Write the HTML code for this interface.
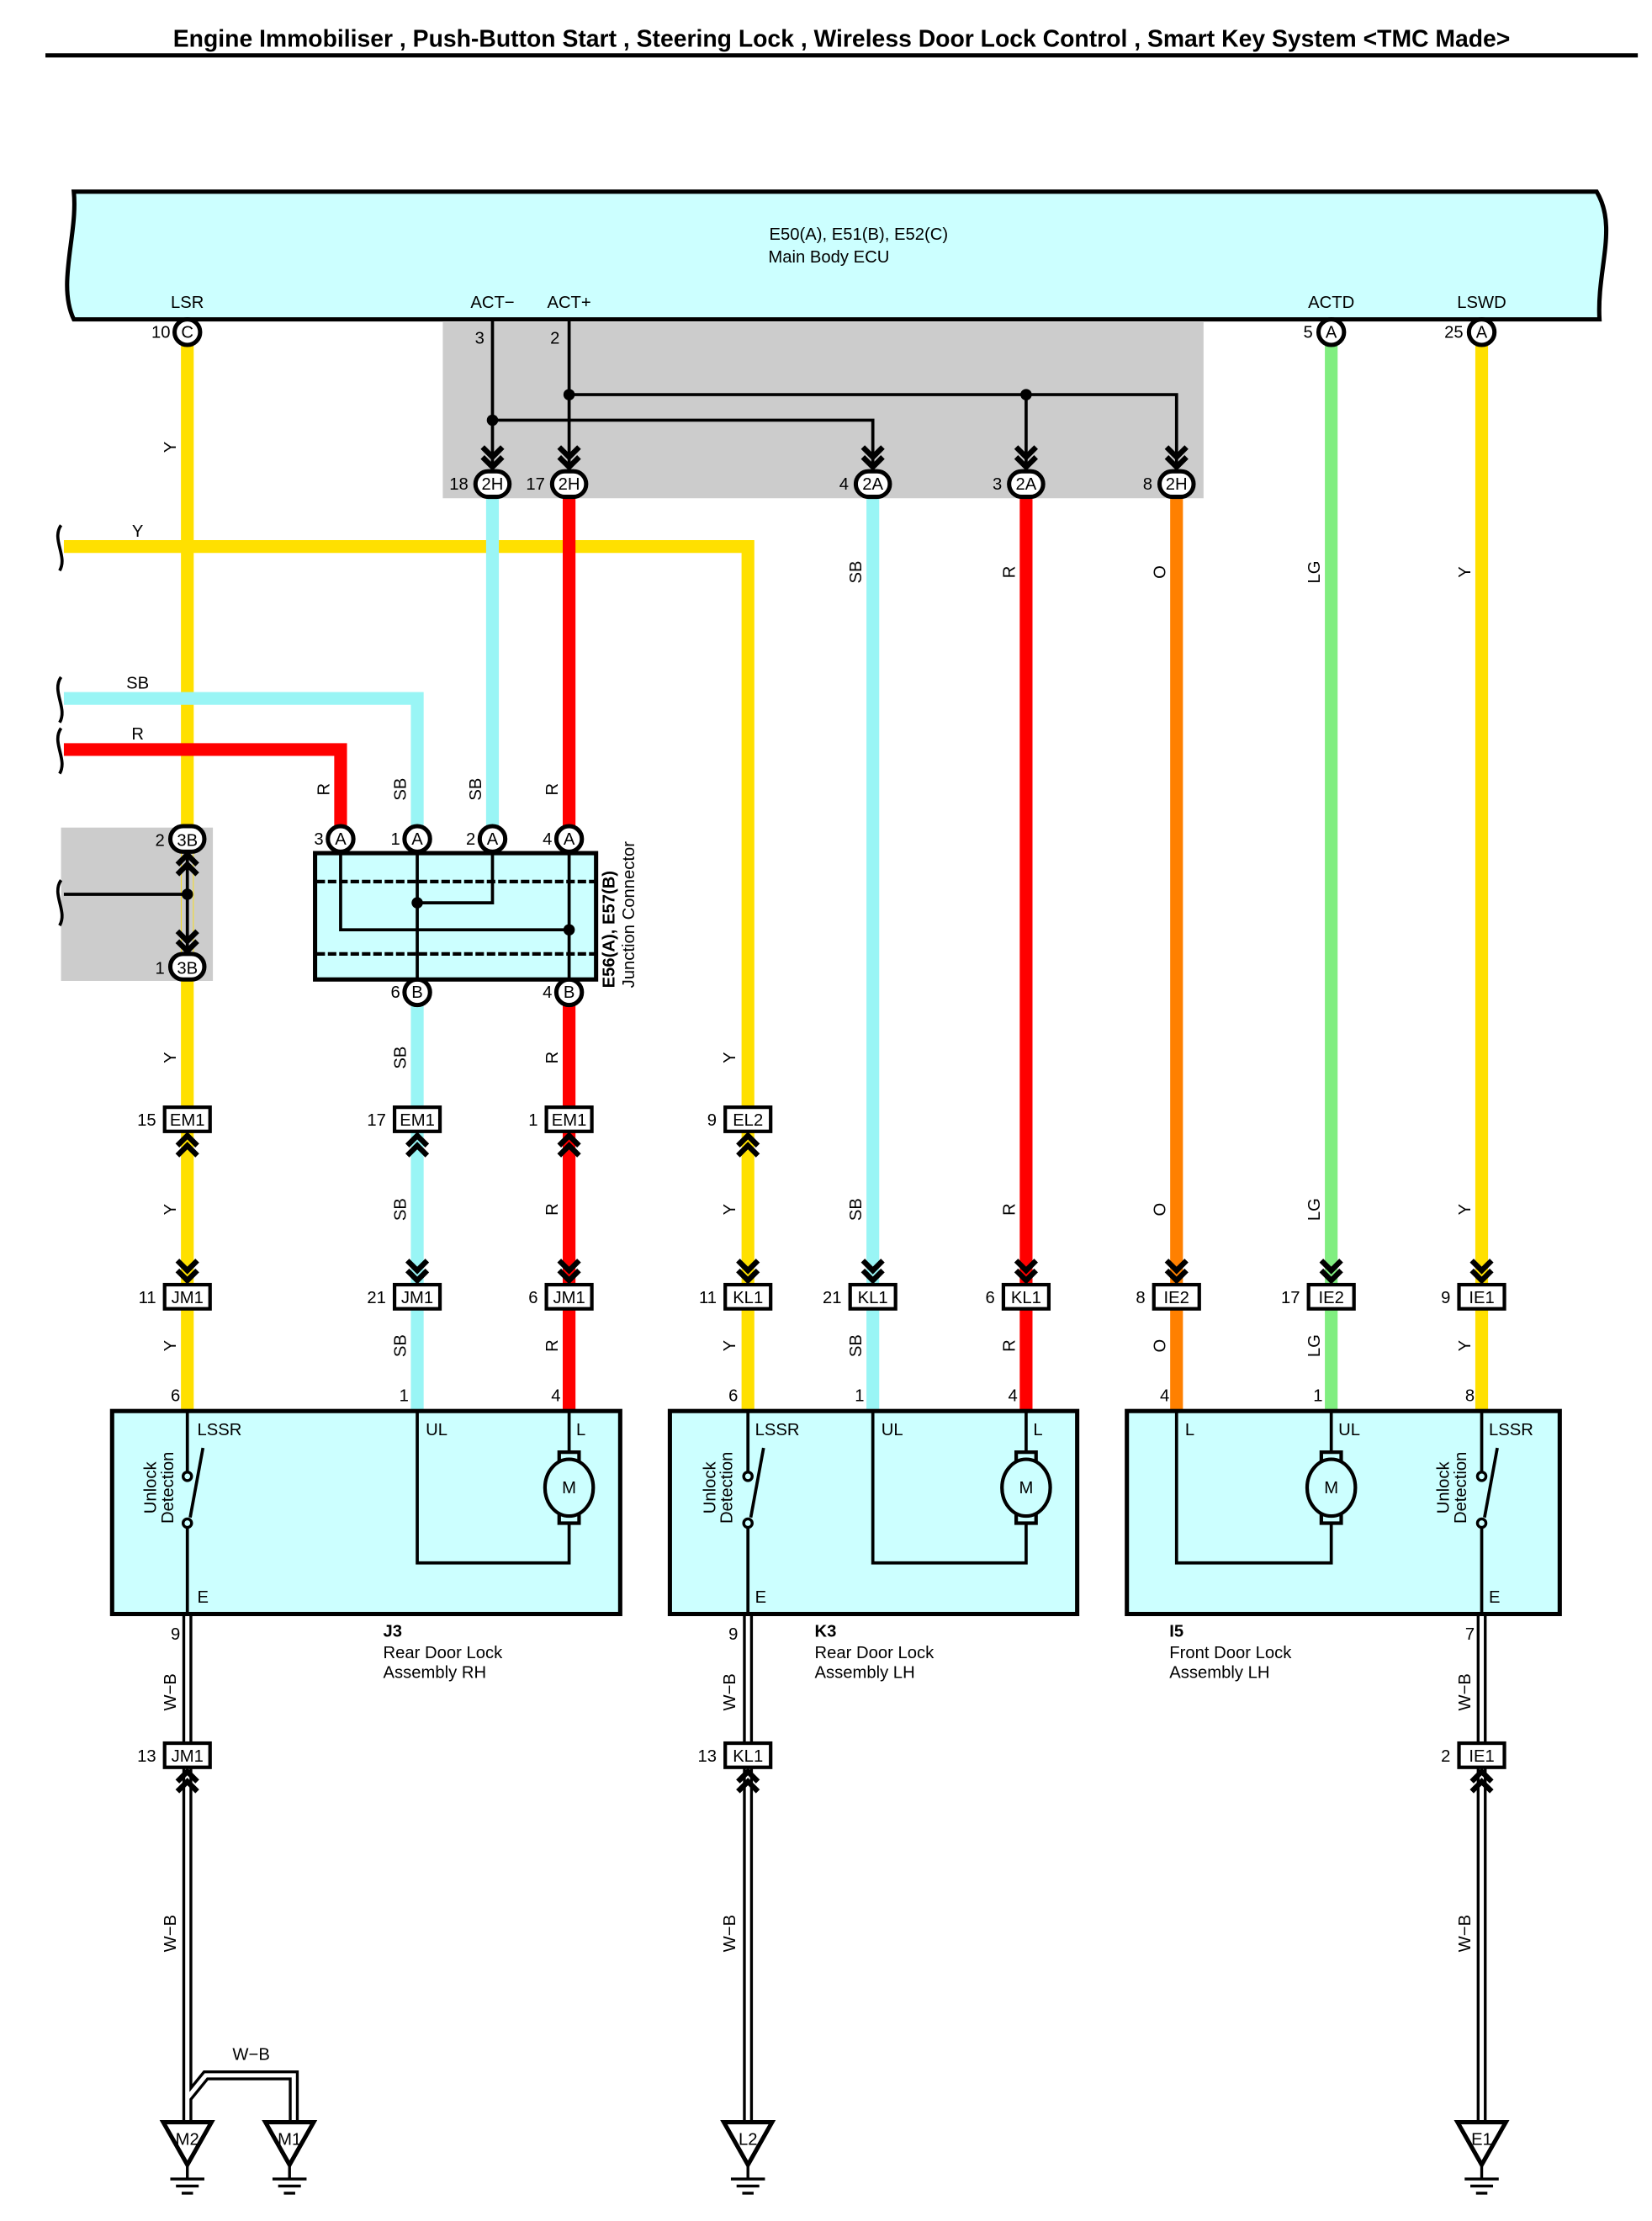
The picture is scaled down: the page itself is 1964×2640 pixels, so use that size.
<!DOCTYPE html>
<html><head><meta charset="utf-8"><style>
html,body{margin:0;padding:0;background:#fff;}
svg{display:block;}
text{font-family:"Liberation Sans",Arial,sans-serif;fill:#000;}
.t{font-size:12px;}
.w{fill:none;stroke-width:9;}
.k{fill:none;stroke:#000;stroke-width:2.2;}
</style></head><body>
<svg width="1964" height="2640" viewBox="0 0 1164 1564.6" preserveAspectRatio="none" xmlns="http://www.w3.org/2000/svg">
<defs>
<g id="cd"><path d="M-7,-16 L0,-9 L7,-16 M-7,-9 L0,-2 L7,-9" fill="none" stroke="#000" stroke-width="3.8"/></g>
<g id="cu"><path d="M-7,16 L0,9 L7,16 M-7,9 L0,2 L7,9" fill="none" stroke="#000" stroke-width="3.8"/></g>
<g id="gnd"><path d="M-17,0 L17,0 L0,30 Z" fill="#fff" stroke="#000" stroke-width="3"/><path d="M0,30 V40 M-12,40 H12 M-8,45 H8 M-4,50 H4" stroke="#000" stroke-width="2" fill="none"/></g>
</defs>
<text x="593" y="33" text-anchor="middle" style="font-size:16.8px;font-weight:bold">Engine Immobiliser , Push-Button Start , Steering Lock , Wireless Door Lock Control , Smart Key System &lt;TMC Made&gt;</text>
<rect x="32" y="37.5" width="1122" height="3" fill="#000"/>

<!-- ECU -->
<path d="M52,135 H1125 C1140,160 1125,190 1127,225 H52 C40,200 55,165 52,135 Z" fill="#ccffff" stroke="#000" stroke-width="3"/>
<text x="605" y="169" text-anchor="middle" class="t">E50(A), E51(B), E52(C)</text>
<text x="584" y="185" text-anchor="middle" class="t">Main Body ECU</text>
<text x="132" y="217" text-anchor="middle" class="t">LSR</text>
<text x="347" y="217" text-anchor="middle" class="t">ACT−</text>
<text x="401" y="217" text-anchor="middle" class="t">ACT+</text>
<text x="938" y="217" text-anchor="middle" class="t">ACTD</text>
<text x="1044" y="217" text-anchor="middle" class="t">LSWD</text>

<rect x="312" y="227" width="536" height="124" fill="#cccccc"/>
<rect x="43" y="583" width="107" height="108" fill="#cccccc"/>

<g class="w">
<path d="M132,242 V993" stroke="#ffe000"/>
<path d="M45,385 H527 V993" stroke="#ffe000"/>
<path d="M1044,242 V993" stroke="#ffe000"/>
<path d="M938,242 V993" stroke="#80ee80"/>
<path d="M829,350 V993" stroke="#ff8000"/>
<path d="M723,350 V993" stroke="#ff0000"/>
<path d="M615,350 V993" stroke="#99f5f5"/>
<path d="M401,350 V993" stroke="#ff0000"/>
<path d="M347,350 V590" stroke="#99f5f5"/>
<path d="M45,492 H294 V590" stroke="#99f5f5"/>
<path d="M294,700 V993" stroke="#99f5f5"/>
<path d="M45,528 H240 V590" stroke="#ff0000"/>
</g>
<g fill="none" stroke="#000" stroke-width="2.2">
<path d="M43,370 C36,380 48,392 42,402"/>
<path d="M43,477 C36,487 48,499 42,509"/>
<path d="M43,513 C36,523 48,535 42,545"/>
<path d="M43,620 C36,630 48,642 42,652"/>
</g>
<rect x="128" y="600" width="8" height="74" fill="#cccccc"/>

<g class="k">
<path d="M347,225 V330 M401,225 V330 M347,296 H615 V330 M401,278 H829 V330 M723,278 V330"/>
<path d="M132,600 V672 M45,630 H132"/>
</g>
<g fill="#000"><circle cx="347" cy="296" r="4"/><circle cx="401" cy="278" r="4"/><circle cx="723" cy="278" r="4"/><circle cx="132" cy="630" r="4"/></g>
<use href="#cd" x="347" y="331"/><use href="#cd" x="401" y="331"/><use href="#cd" x="615" y="331"/><use href="#cd" x="723" y="331"/><use href="#cd" x="829" y="331"/>
<use href="#cu" x="132" y="600"/><use href="#cd" x="132" y="672"/>
<text x="338" y="242" text-anchor="middle" class="t">3</text>
<text x="391" y="242" text-anchor="middle" class="t">2</text>

<g fill="#fff" stroke="#000" stroke-width="3">
<circle cx="132" cy="234" r="9"/><circle cx="938" cy="234" r="9"/><circle cx="1044" cy="234" r="9"/>
<circle cx="240" cy="591" r="9"/><circle cx="294" cy="591" r="9"/><circle cx="347" cy="591" r="9"/><circle cx="401" cy="591" r="9"/>
<circle cx="294" cy="699" r="9"/><circle cx="401" cy="699" r="9"/>
<rect x="335" y="332" width="24" height="18" rx="9"/><rect x="389" y="332" width="24" height="18" rx="9"/>
<rect x="603" y="332" width="24" height="18" rx="9"/><rect x="711" y="332" width="24" height="18" rx="9"/><rect x="817" y="332" width="24" height="18" rx="9"/>
<rect x="120" y="582" width="24" height="18" rx="9"/><rect x="120" y="672" width="24" height="18" rx="9"/>
</g>
<g class="t" text-anchor="middle">
<text x="132" y="238">C</text><text x="938" y="238">A</text><text x="1044" y="238">A</text>
<text x="240" y="595">A</text><text x="294" y="595">A</text><text x="347" y="595">A</text><text x="401" y="595">A</text>
<text x="294" y="703">B</text><text x="401" y="703">B</text>
<text x="347" y="345">2H</text><text x="401" y="345">2H</text><text x="615" y="345">2A</text><text x="723" y="345">2A</text><text x="829" y="345">2H</text>
<text x="132" y="596">3B</text><text x="132" y="686">3B</text>
</g>
<g class="t" text-anchor="end">
<text x="120" y="238">10</text><text x="925" y="238">5</text><text x="1031" y="238">25</text>
<text x="330" y="345">18</text><text x="384" y="345">17</text><text x="598" y="345">4</text><text x="706" y="345">3</text><text x="812" y="345">8</text>
<text x="116" y="596">2</text><text x="116" y="686">1</text>
<text x="228" y="595">3</text><text x="282" y="595">1</text><text x="335" y="595">2</text><text x="389" y="595">4</text>
<text x="282" y="703">6</text><text x="389" y="703">4</text>
</g>

<rect x="222" y="601" width="198" height="89" fill="#ccffff" stroke="#000" stroke-width="3"/>
<path d="M223,621 H419 M223,672 H419" stroke="#000" stroke-width="2.5" stroke-dasharray="6,2"/>
<g class="k"><path d="M240,600 V655 H401 M294,600 V690 M347,600 V636 H294 M401,600 V690"/></g>
<circle cx="401" cy="655" r="4"/><circle cx="294" cy="636" r="4"/>
<text transform="translate(433,696) rotate(-90)" style="font-size:12px;font-weight:bold">E56(A), E57(B)</text>
<text transform="translate(447,696) rotate(-90)" class="t">Junction Connector</text>

<text x="97" y="378" text-anchor="middle" class="t">Y</text>
<text x="97" y="485" text-anchor="middle" class="t">SB</text>
<text x="97" y="521" text-anchor="middle" class="t">R</text>

<g class="t" text-anchor="middle">
<text transform="translate(124,315) rotate(-90)">Y</text>
<text transform="translate(232,556) rotate(-90)">R</text>
<text transform="translate(286,556) rotate(-90)">SB</text>
<text transform="translate(339,556) rotate(-90)">SB</text>
<text transform="translate(393,556) rotate(-90)">R</text>
<text transform="translate(607,403) rotate(-90)">SB</text>
<text transform="translate(715,403) rotate(-90)">R</text>
<text transform="translate(821,403) rotate(-90)">O</text>
<text transform="translate(930,403) rotate(-90)">LG</text>
<text transform="translate(1036,403) rotate(-90)">Y</text>
<text transform="translate(124,745) rotate(-90)">Y</text>
<text transform="translate(286,745) rotate(-90)">SB</text>
<text transform="translate(393,745) rotate(-90)">R</text>
<text transform="translate(518,745) rotate(-90)">Y</text>
<text transform="translate(124,852) rotate(-90)">Y</text>
<text transform="translate(286,852) rotate(-90)">SB</text>
<text transform="translate(393,852) rotate(-90)">R</text>
<text transform="translate(518,852) rotate(-90)">Y</text>
<text transform="translate(607,852) rotate(-90)">SB</text>
<text transform="translate(715,852) rotate(-90)">R</text>
<text transform="translate(821,852) rotate(-90)">O</text>
<text transform="translate(930,852) rotate(-90)">LG</text>
<text transform="translate(1036,852) rotate(-90)">Y</text>
<text transform="translate(124,948) rotate(-90)">Y</text>
<text transform="translate(286,948) rotate(-90)">SB</text>
<text transform="translate(393,948) rotate(-90)">R</text>
<text transform="translate(518,948) rotate(-90)">Y</text>
<text transform="translate(607,948) rotate(-90)">SB</text>
<text transform="translate(715,948) rotate(-90)">R</text>
<text transform="translate(821,948) rotate(-90)">O</text>
<text transform="translate(930,948) rotate(-90)">LG</text>
<text transform="translate(1036,948) rotate(-90)">Y</text>
<text transform="translate(124,1192) rotate(-90)">W−B</text>
<text transform="translate(518,1192) rotate(-90)">W−B</text>
<text transform="translate(1036,1192) rotate(-90)">W−B</text>
<text transform="translate(124,1362) rotate(-90)">W−B</text>
<text transform="translate(518,1362) rotate(-90)">W−B</text>
<text transform="translate(1036,1362) rotate(-90)">W−B</text>
</g>

<use href="#cu" x="132" y="798"/><use href="#cu" x="294" y="798"/><use href="#cu" x="401" y="798"/><use href="#cu" x="527" y="798"/>
<use href="#cd" x="132" y="904"/><use href="#cd" x="294" y="904"/><use href="#cd" x="401" y="904"/><use href="#cd" x="527" y="904"/><use href="#cd" x="615" y="904"/><use href="#cd" x="723" y="904"/><use href="#cd" x="829" y="904"/><use href="#cd" x="938" y="904"/><use href="#cd" x="1044" y="904"/>

<g fill="none">
<path d="M132,1137 V1495 M527,1137 V1495 M1044,1137 V1495 M132,1478 L145,1462 H207 V1495" stroke="#000" stroke-width="7"/>
<path d="M132,1137 V1495 M527,1137 V1495 M1044,1137 V1495 M132,1478 L145,1462 H207 V1495" stroke="#fff" stroke-width="3"/>
</g>
<use href="#cu" x="132" y="1246"/><use href="#cu" x="527" y="1246"/><use href="#cu" x="1044" y="1246"/>
<text x="177" y="1451" text-anchor="middle" class="t">W−B</text>

<g fill="#fff" stroke="#000" stroke-width="2.5">
<rect x="116" y="780" width="32" height="17"/><rect x="278" y="780" width="32" height="17"/><rect x="385" y="780" width="32" height="17"/><rect x="511" y="780" width="32" height="17"/>
<rect x="116" y="905" width="32" height="17"/><rect x="278" y="905" width="32" height="17"/><rect x="385" y="905" width="32" height="17"/>
<rect x="511" y="905" width="32" height="17"/><rect x="599" y="905" width="32" height="17"/><rect x="707" y="905" width="32" height="17"/>
<rect x="813" y="905" width="32" height="17"/><rect x="922" y="905" width="32" height="17"/><rect x="1028" y="905" width="32" height="17"/>
<rect x="116" y="1228" width="32" height="17"/><rect x="511" y="1228" width="32" height="17"/><rect x="1028" y="1228" width="32" height="17"/>
</g>
<g class="t" text-anchor="middle">
<text x="132" y="793">EM1</text><text x="294" y="793">EM1</text><text x="401" y="793">EM1</text><text x="527" y="793">EL2</text>
<text x="132" y="918">JM1</text><text x="294" y="918">JM1</text><text x="401" y="918">JM1</text>
<text x="527" y="918">KL1</text><text x="615" y="918">KL1</text><text x="723" y="918">KL1</text>
<text x="829" y="918">IE2</text><text x="938" y="918">IE2</text><text x="1044" y="918">IE1</text>
<text x="132" y="1241">JM1</text><text x="527" y="1241">KL1</text><text x="1044" y="1241">IE1</text>
</g>
<g class="t" text-anchor="end">
<text x="110" y="793">15</text><text x="272" y="793">17</text><text x="379" y="793">1</text><text x="505" y="793">9</text>
<text x="110" y="918">11</text><text x="272" y="918">21</text><text x="379" y="918">6</text>
<text x="505" y="918">11</text><text x="593" y="918">21</text><text x="701" y="918">6</text>
<text x="807" y="918">8</text><text x="916" y="918">17</text><text x="1022" y="918">9</text>
<text x="110" y="1241">13</text><text x="505" y="1241">13</text><text x="1022" y="1241">2</text>
<text x="127" y="987">6</text><text x="288" y="987">1</text><text x="395" y="987">4</text>
<text x="520" y="987">6</text><text x="609" y="987">1</text><text x="717" y="987">4</text>
<text x="824" y="987">4</text><text x="932" y="987">1</text><text x="1039" y="987">8</text>
<text x="127" y="1155">9</text><text x="520" y="1155">9</text><text x="1039" y="1155">7</text>
</g>

<g fill="#ccffff" stroke="#000" stroke-width="3">
<rect x="79" y="994" width="358" height="143"/>
<rect x="472" y="994" width="287" height="143"/>
<rect x="794" y="994" width="305" height="143"/>
</g>
<g class="k">
<path d="M132,994 V1037 M132,1076 V1137 M294,994 V1101 H401 V1073 M401,994 V1023"/>
<path d="M134,1069 L143,1020"/>
<path d="M527,994 V1037 M527,1076 V1137 M615,994 V1101 H723 V1073 M723,994 V1023"/>
<path d="M529,1069 L538,1020"/>
<path d="M1044,994 V1037 M1044,1076 V1137 M829,994 V1101 H938 V1073 M938,994 V1023"/>
<path d="M1046,1069 L1055,1020"/>
</g>
<g fill="#ccffff" stroke="#000" stroke-width="2">
<circle cx="132" cy="1040" r="3"/><circle cx="132" cy="1073" r="3"/>
<circle cx="527" cy="1040" r="3"/><circle cx="527" cy="1073" r="3"/>
<circle cx="1044" cy="1040" r="3"/><circle cx="1044" cy="1073" r="3"/>
</g>
<g fill="#ccffff" stroke="#000" stroke-width="2.5">
<rect x="394" y="1023" width="14" height="7"/><rect x="394" y="1066" width="14" height="7"/><ellipse cx="401" cy="1048" rx="17" ry="20"/>
<rect x="716" y="1023" width="14" height="7"/><rect x="716" y="1066" width="14" height="7"/><ellipse cx="723" cy="1048" rx="17" ry="20"/>
<rect x="931" y="1023" width="14" height="7"/><rect x="931" y="1066" width="14" height="7"/><ellipse cx="938" cy="1048" rx="17" ry="20"/>
</g>
<g class="t" text-anchor="middle"><text x="401" y="1052">M</text><text x="723" y="1052">M</text><text x="938" y="1052">M</text></g>
<g class="t">
<text x="139" y="1011">LSSR</text><text x="139" y="1129">E</text><text x="300" y="1011">UL</text><text x="406" y="1011">L</text>
<text x="532" y="1011">LSSR</text><text x="532" y="1129">E</text><text x="621" y="1011">UL</text><text x="728" y="1011">L</text>
<text x="1049" y="1011">LSSR</text><text x="1049" y="1129">E</text><text x="943" y="1011">UL</text><text x="835" y="1011">L</text>
</g>
<g class="t" text-anchor="middle">
<text transform="translate(110,1048) rotate(-90)">Unlock</text><text transform="translate(122,1048) rotate(-90)">Detection</text>
<text transform="translate(504,1048) rotate(-90)">Unlock</text><text transform="translate(516,1048) rotate(-90)">Detection</text>
<text transform="translate(1021,1048) rotate(-90)">Unlock</text><text transform="translate(1033,1048) rotate(-90)">Detection</text>
</g>
<g class="t">
<text x="270" y="1153" style="font-weight:bold">J3</text><text x="270" y="1168">Rear Door Lock</text><text x="270" y="1182">Assembly RH</text>
<text x="574" y="1153" style="font-weight:bold">K3</text><text x="574" y="1168">Rear Door Lock</text><text x="574" y="1182">Assembly LH</text>
<text x="824" y="1153" style="font-weight:bold">I5</text><text x="824" y="1168">Front Door Lock</text><text x="824" y="1182">Assembly LH</text>
</g>

<use href="#gnd" x="132" y="1495"/><use href="#gnd" x="204" y="1495"/><use href="#gnd" x="527" y="1495"/><use href="#gnd" x="1044" y="1495"/>
<g class="t" text-anchor="middle">
<text x="132" y="1511">M2</text><text x="204" y="1511">M1</text><text x="527" y="1511">L2</text><text x="1044" y="1511">E1</text>
</g>
</svg>
</body></html>
